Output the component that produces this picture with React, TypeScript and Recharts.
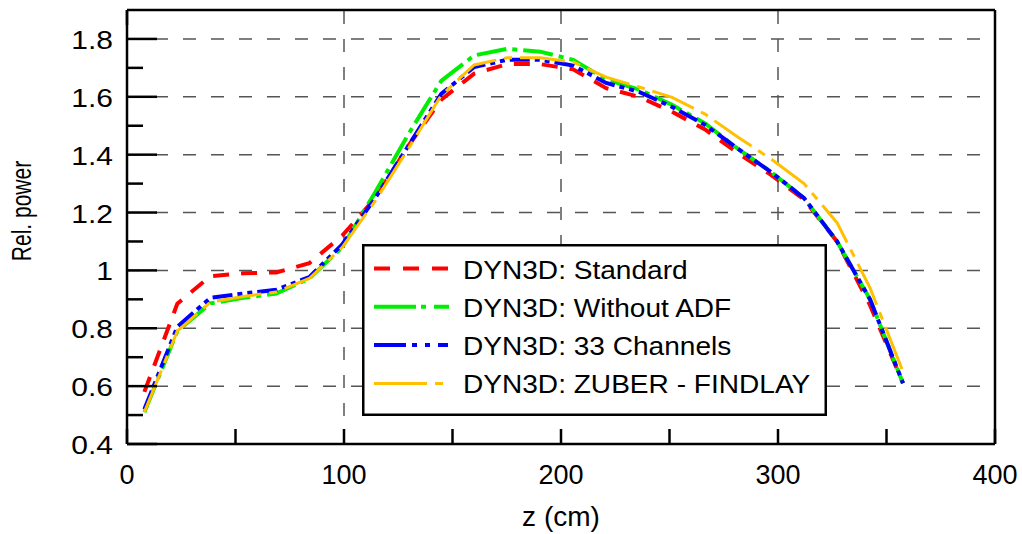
import React from "react";
import { LineChart, Line, XAxis, YAxis, ReferenceLine, Legend } from "recharts";

// axial positions (cm) and relative power for each DYN3D variant
const zPositions = [
  8, 23.2, 38.4, 53.6, 68.8, 84, 99.2, 114.4, 129.6, 144.8, 160, 175.2, 190.4,
  205.6, 220.8, 236, 251.2, 266.4, 281.6, 296.8, 312, 327.2, 342.4, 357.6,
];
const standard = [
  0.58, 0.885, 0.98, 0.99, 0.993, 1.025, 1.12, 1.25, 1.43, 1.59, 1.68, 1.713,
  1.713, 1.695, 1.63, 1.6, 1.548, 1.487, 1.405, 1.33, 1.245, 1.1, 0.88, 0.61,
];
const withoutAdf = [
  0.51, 0.79, 0.886, 0.905, 0.92, 0.972, 1.08, 1.27, 1.47, 1.655, 1.743, 1.766,
  1.756, 1.728, 1.66, 1.625, 1.572, 1.508, 1.42, 1.34, 1.25, 1.1, 0.9, 0.61,
];
const channels33 = [
  0.52, 0.805, 0.905, 0.92, 0.933, 0.977, 1.09, 1.25, 1.43, 1.61, 1.703, 1.728,
  1.728, 1.708, 1.648, 1.617, 1.565, 1.503, 1.42, 1.34, 1.25, 1.1, 0.9, 0.61,
];
const zuberFindlay = [
  0.51, 0.79, 0.89, 0.91, 0.925, 0.972, 1.08, 1.24, 1.42, 1.605, 1.71, 1.735,
  1.735, 1.72, 1.668, 1.634, 1.598, 1.54, 1.46, 1.385, 1.3, 1.165, 0.94, 0.65,
];

const xTicks = [0, 50, 100, 150, 200, 250, 300, 350, 400];
const xLabels = [0, 100, 200, 300, 400];
const yTicks = [0.4, 0.5, 0.6, 0.7, 0.8, 0.9, 1, 1.1, 1.2, 1.3, 1.4, 1.5, 1.6, 1.7, 1.8];
const yGrid = [0.6, 0.8, 1, 1.2, 1.4, 1.6, 1.8];
const xGrid = [100, 200, 300];

const FONT = "'Liberation Sans', Arial, sans-serif";

const series = [
  { key: "standard", name: "DYN3D: Standard", color: "#ff0000", width: 4, dash: "16 12", legendDash: "16 13" },
  { key: "withoutAdf", name: "DYN3D: Without ADF", color: "#00ee00", width: 4, dash: "30 6 5 6", legendDash: "42 5 5 8 15 20" },
  { key: "channels33", name: "DYN3D: 33 Channels", color: "#0000ff", width: 4, dash: "20 5 5 5 5 5", legendDash: "32 6 5 8 5 8 10 20" },
  { key: "zuberFindlay", name: "DYN3D: ZUBER - FINDLAY", color: "#ffc000", width: 3, dash: "45 8 8 8", legendDash: "53 8 8 20" },
];

const data = zPositions.map((z, i) => ({
  z,
  standard: standard[i],
  withoutAdf: withoutAdf[i],
  channels33: channels33[i],
  zuberFindlay: zuberFindlay[i],
}));

const isMajor = (v: number) => Math.round(v * 10) % 2 === 0;

const BottomTick = (props: any) => {
  const { x, y, payload } = props;
  const v = payload.value;
  return (
    <g>
      <line x1={x} y1={y} x2={x} y2={y - 15} stroke="#000" strokeWidth={2.5} />
      {xLabels.includes(v) && (
        <text x={x} y={y + 40} textAnchor="middle" fontSize={27} fontFamily={FONT} fill="#000">
          {v}
        </text>
      )}
    </g>
  );
};

const TopTick = (props: any) => {
  const { x, y } = props;
  return <line x1={x} y1={y} x2={x} y2={y + 15} stroke="#000" strokeWidth={2.5} />;
};

const LeftTick = (props: any) => {
  const { x, y, payload } = props;
  const v = payload.value;
  const major = isMajor(v);
  return (
    <g>
      <line x1={x} y1={y} x2={x + (major ? 30 : 16)} y2={y} stroke="#000" strokeWidth={2.5} />
      {major && (
        <text
          transform={`translate(${x - 14},${y + 10}) scale(1.2,1)`}
          textAnchor="end"
          fontSize={25}
          fontFamily={FONT}
          fill="#000"
        >
          {String(v)}
        </text>
      )}
    </g>
  );
};

const RightTick = (props: any) => {
  const { x, y, payload } = props;
  const major = isMajor(payload.value);
  return <line x1={x} y1={y} x2={x - (major ? 30 : 16)} y2={y} stroke="#000" strokeWidth={2.5} />;
};

const YLabel = () => (
  <text
    transform="translate(21,211) scale(1.35,1) rotate(-90)"
    textAnchor="middle"
    dominantBaseline="central"
    fontSize={21}
    fontFamily={FONT}
    fill="#000"
  >
    Rel. power
  </text>
);

const LegendBox = () => (
  <svg width={465} height={172} style={{ display: "block" }}>
    <rect x={1.25} y={1.25} width={462.5} height={169.5} fill="#fff" stroke="#000" strokeWidth={2.5} />
    {series.map((s, i) => (
      <g key={s.key}>
        <line
          x1={12}
          x2={87}
          y1={24.5 + i * 38.3}
          y2={24.5 + i * 38.3}
          stroke={s.color}
          strokeWidth={s.width}
          strokeDasharray={s.legendDash}
        />
        <text
          transform={`translate(101,${34.5 + i * 38.3}) scale(1.08,1)`}
          fontSize={26}
          fontFamily={FONT}
          fill="#000"
        >
          {s.name}
        </text>
      </g>
    ))}
  </svg>
);

const axisLine = { stroke: "#000", strokeWidth: 2.5 };

export default function App() {
  return (
    <div style={{ position: "absolute", left: 0, top: 0, width: 1022, height: 534, background: "#fff" }}>
      <LineChart width={1022} height={534} data={data} margin={{ top: 0, right: 0, bottom: 0, left: 0 }}>
        <XAxis
          dataKey="z"
          type="number"
          domain={[0, 400]}
          ticks={xTicks}
          interval={0}
          height={90}
          tickSize={0}
          tickMargin={0}
          tickLine={false}
          axisLine={axisLine}
          tick={<BottomTick />}
          label={{
            value: "z (cm)",
            position: "insideBottom",
            offset: 8,
            style: { fontSize: 28, fontFamily: FONT, fill: "#000" },
          }}
        />
        <XAxis
          xAxisId="top"
          orientation="top"
          type="number"
          domain={[0, 400]}
          ticks={xTicks}
          interval={0}
          height={10}
          tickSize={0}
          tickMargin={0}
          tickLine={false}
          axisLine={axisLine}
          tick={<TopTick />}
        />
        <YAxis
          type="number"
          domain={[0.4, 1.9]}
          ticks={yTicks}
          interval={0}
          width={127}
          tickSize={0}
          tickMargin={0}
          tickLine={false}
          axisLine={axisLine}
          tick={<LeftTick />}
          label={{ content: <YLabel /> }}
        />
        <YAxis
          yAxisId="right"
          orientation="right"
          type="number"
          domain={[0.4, 1.9]}
          ticks={yTicks}
          interval={0}
          width={27}
          tickSize={0}
          tickMargin={0}
          tickLine={false}
          axisLine={axisLine}
          tick={<RightTick />}
        />
        {yGrid.map((v) => (
          <ReferenceLine key={"h" + v} y={v} stroke="#555" strokeWidth={1.5} strokeDasharray="13 15" />
        ))}
        {xGrid.map((v) => (
          <ReferenceLine key={"v" + v} x={v} stroke="#555" strokeWidth={1.5} strokeDasharray="13 15" />
        ))}
        {series.map((s) => (
          <Line
            key={s.key}
            type="linear"
            dataKey={s.key}
            name={s.name}
            stroke={s.color}
            strokeWidth={s.width}
            strokeDasharray={s.dash}
            dot={false}
            activeDot={false}
            isAnimationActive={false}
          />
        ))}
        <Legend
          layout="vertical"
          align="center"
          verticalAlign="middle"
          content={<LegendBox />}
          wrapperStyle={{ position: "absolute", left: 362, top: 244, width: 465, height: 172 }}
        />
      </LineChart>
    </div>
  );
}
